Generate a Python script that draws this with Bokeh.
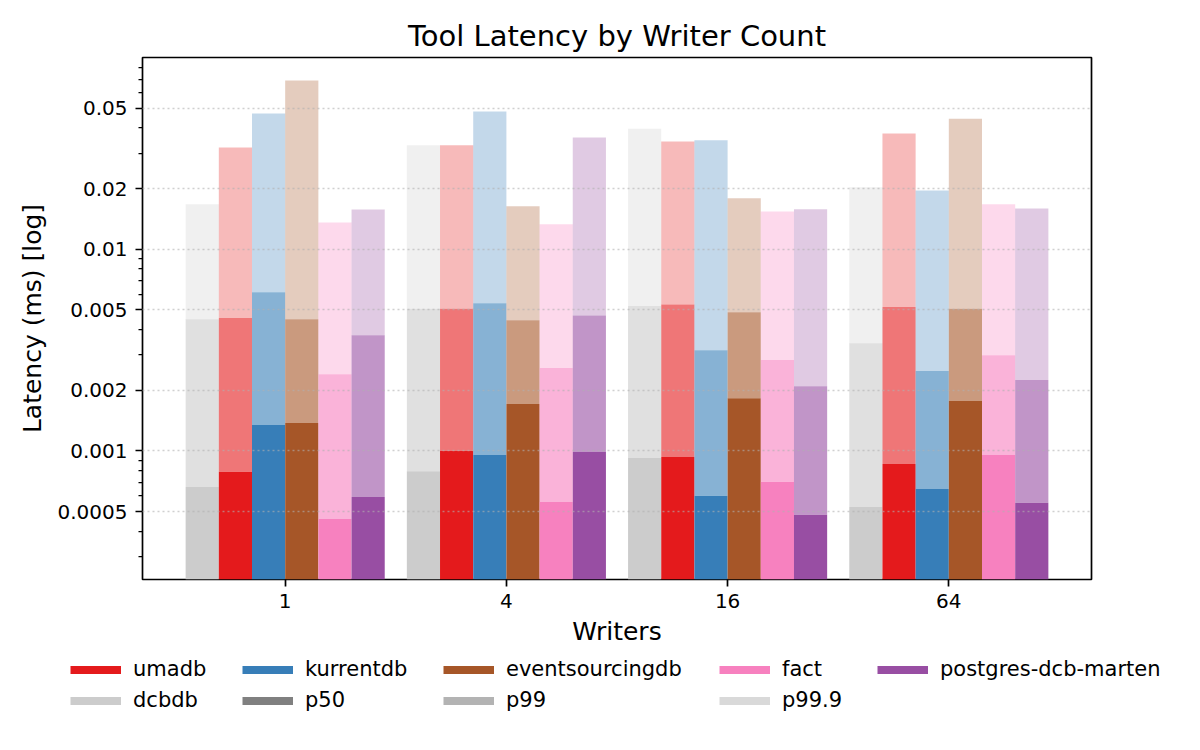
from bokeh.plotting import figure
from bokeh.models import Range1d, FixedTicker, Legend, LegendItem, ColumnDataSource
from bokeh.embed import file_html
from bokeh.resources import INLINE

# ---------------- data ----------------
writers = ["1", "4", "16", "64"]
tools = ["dcbdb", "umadb", "kurrentdb", "eventsourcingdb", "fact", "postgres-dcb-marten"]
tool_colors = ["#cccccc", "#e41a1c", "#377eb8", "#a65628", "#f781bf", "#984ea3"]
percentiles = ["p50", "p99", "p99.9"]
percentile_alpha = [1.0, 0.6, 0.3]

# latency in ms, per writer count (1, 4, 16, 64)
dcbdb_p50 = [0.000662, 0.000793, 0.000921, 0.000527]
dcbdb_p99 = [0.00450, 0.00507, 0.00523, 0.00342]
dcbdb_p999 = [0.01673, 0.0328, 0.0397, 0.0203]

umadb_p50 = [0.000787, 0.00100, 0.000932, 0.000861]
umadb_p99 = [0.00456, 0.00507, 0.00533, 0.00517]
umadb_p999 = [0.0320, 0.0328, 0.0343, 0.0376]

kurrentdb_p50 = [0.001343, 0.000954, 0.000598, 0.000646]
kurrentdb_p99 = [0.00612, 0.00540, 0.00316, 0.00249]
kurrentdb_p999 = [0.0472, 0.0483, 0.0348, 0.0196]

eventsourcingdb_p50 = [0.001375, 0.001706, 0.001824, 0.001768]
eventsourcingdb_p99 = [0.00450, 0.00445, 0.00487, 0.00507]
eventsourcingdb_p999 = [0.0689, 0.01634, 0.0179, 0.0445]

fact_p50 = [0.000459, 0.000557, 0.000702, 0.000954]
fact_p99 = [0.00240, 0.00258, 0.00282, 0.00298]
fact_p999 = [0.01359, 0.01332, 0.0154, 0.01673]

marten_p50 = [0.00059, 0.000988, 0.000482, 0.000553]
marten_p99 = [0.003745, 0.0047, 0.00209, 0.002246]
marten_p999 = [0.01578, 0.03586, 0.0158, 0.01596]

y_tick_values = [0.0005, 0.001, 0.002, 0.005, 0.01, 0.02, 0.05]
y_tick_labels = ["0.0005", "0.001", "0.002", "0.005", "0.01", "0.02", "0.05"]
y_minor_values = [0.0003, 0.0004, 0.0006, 0.0007, 0.0008, 0.0009,
                  0.003, 0.004, 0.006, 0.007, 0.008, 0.009,
                  0.03, 0.04, 0.06, 0.07, 0.08]

series = [
    (dcbdb_p50, dcbdb_p99, dcbdb_p999),
    (umadb_p50, umadb_p99, umadb_p999),
    (kurrentdb_p50, kurrentdb_p99, kurrentdb_p999),
    (eventsourcingdb_p50, eventsourcingdb_p99, eventsourcingdb_p999),
    (fact_p50, fact_p99, fact_p999),
    (marten_p50, marten_p99, marten_p999),
]

# ---------------- style ----------------
FONT = "DejaVu Sans"
BAR_W = 0.15
BASELINE = 1e-5
TICK_FONT = "20px"
LEGEND_FONT = "21px"
FIG_W = 1192
MAIN_H = 653
LEG_H = 89

p = figure(
    width=FIG_W, height=MAIN_H,
    x_range=Range1d(-0.645, 3.645),
    y_range=Range1d(0.00023, 0.0895),
    y_axis_type="log",
    output_backend="svg",
    toolbar_location=None,
    min_border_left=142, min_border_right=101,
    min_border_top=57, min_border_bottom=74,
    title="Tool Latency by Writer Count",
)
p.background_fill_color = "white"
p.border_fill_color = "white"
p.outline_line_color = "black"
p.outline_line_width = 1.7

p.title.text_font = FONT
p.title.text_font_size = "29px"
p.title.text_font_style = "normal"
p.title.align = "center"
p.title.text_color = "black"
p.title.standoff = 10

n_tools = len(tools)
for k, (vals, color) in enumerate(zip(series, tool_colors)):
    xs = [g + (k - (n_tools - 1) / 2) * BAR_W for g in range(len(writers))]
    lower = [BASELINE] * len(writers)
    for j, upper in enumerate(vals):
        src = ColumnDataSource(dict(x=xs, bottom=lower, top=upper))
        p.vbar(x="x", width=BAR_W, bottom="bottom", top="top", source=src,
               fill_color=color, fill_alpha=percentile_alpha[j], line_color=None)
        lower = upper

# axes
xa = p.xaxis[0]
xa.ticker = FixedTicker(ticks=list(range(len(writers))))
xa.major_label_overrides = {i: w for i, w in enumerate(writers)}
xa.axis_label = "Writers"
xa.minor_tick_line_color = None

ya = p.yaxis[0]
ya.ticker = FixedTicker(ticks=y_tick_values, minor_ticks=y_minor_values)
ya.major_label_overrides = {v: s for v, s in zip(y_tick_values, y_tick_labels)}
ya.axis_label = "Latency (ms) [log]"

for ax in (xa, ya):
    ax.axis_line_color = None
    ax.major_tick_out = 7
    ax.major_tick_in = 0
    ax.major_tick_line_width = 1.7
    ax.major_tick_line_color = "black"
    ax.minor_tick_out = 4
    ax.minor_tick_in = 0
    ax.minor_tick_line_width = 1.25
    ax.major_label_text_font = FONT
    ax.major_label_text_font_size = TICK_FONT
    ax.major_label_text_color = "black"
    ax.axis_label_text_font = FONT
    ax.axis_label_text_font_size = "25px"
    ax.axis_label_text_font_style = "normal"
    ax.axis_label_text_color = "black"
xa.major_label_standoff = 7
xa.axis_label_standoff = 6
ya.major_label_standoff = 8
ya.axis_label_standoff = 8

p.xgrid.visible = False
p.ygrid.grid_line_color = "#b0b0b0"
p.ygrid.grid_line_alpha = 0.6
p.ygrid.grid_line_width = 1.6
p.ygrid.grid_line_dash = "2 3"
p.ygrid.level = "overlay"

# ---------------- legend (separate strip below, 5 columns) ----------------
lf = figure(
    width=FIG_W, height=LEG_H,
    x_range=Range1d(0, 1), y_range=Range1d(0, 1),
    x_axis_type=None, y_axis_type=None,
    output_backend="svg", toolbar_location=None,
    min_border=0, min_border_left=0, min_border_right=0,
    min_border_top=0, min_border_bottom=0,
)
lf.outline_line_color = None
lf.background_fill_color = "white"
lf.border_fill_color = "white"
lf.xgrid.visible = False
lf.ygrid.visible = False

# swatch-only renderers (their points lie outside the strip's visible range)
OFF = [-3, -2]
all_rend = {}
for name, color in zip(tools, tool_colors):
    all_rend[name] = lf.line(x=OFF, y=OFF, line_color=color, line_width=8)
for name, a in zip(percentiles, percentile_alpha):
    all_rend[name] = lf.line(x=OFF, y=OFF, line_color="gray", line_alpha=a, line_width=8)

legend_cols = [
    [tools[1], tools[0]],
    [tools[2], percentiles[0]],
    [tools[3], percentiles[1]],
    [tools[4], percentiles[2]],
    [tools[5]],
]
col_x = [70, 242, 443, 719, 877]
ROW_H = 25
ROW_GAP = 6
TOP_PAD = 3.5
for cx, names in zip(col_x, legend_cols):
    h = len(names) * ROW_H + (len(names) - 1) * ROW_GAP
    lg = Legend(
        items=[LegendItem(label=n, renderers=[all_rend[n]]) for n in names],
        location=(cx, LEG_H - TOP_PAD - h),
        orientation="vertical",
        glyph_width=51, glyph_height=ROW_H, label_height=ROW_H,
        label_standoff=12, spacing=ROW_GAP, padding=0, margin=0,
        border_line_color=None, background_fill_alpha=0,
        label_text_font=FONT, label_text_font_size=LEGEND_FONT,
        label_text_color="black",
    )
    lf.add_layout(lg)

open("out.html", "w").write(file_html([p, lf], INLINE))
